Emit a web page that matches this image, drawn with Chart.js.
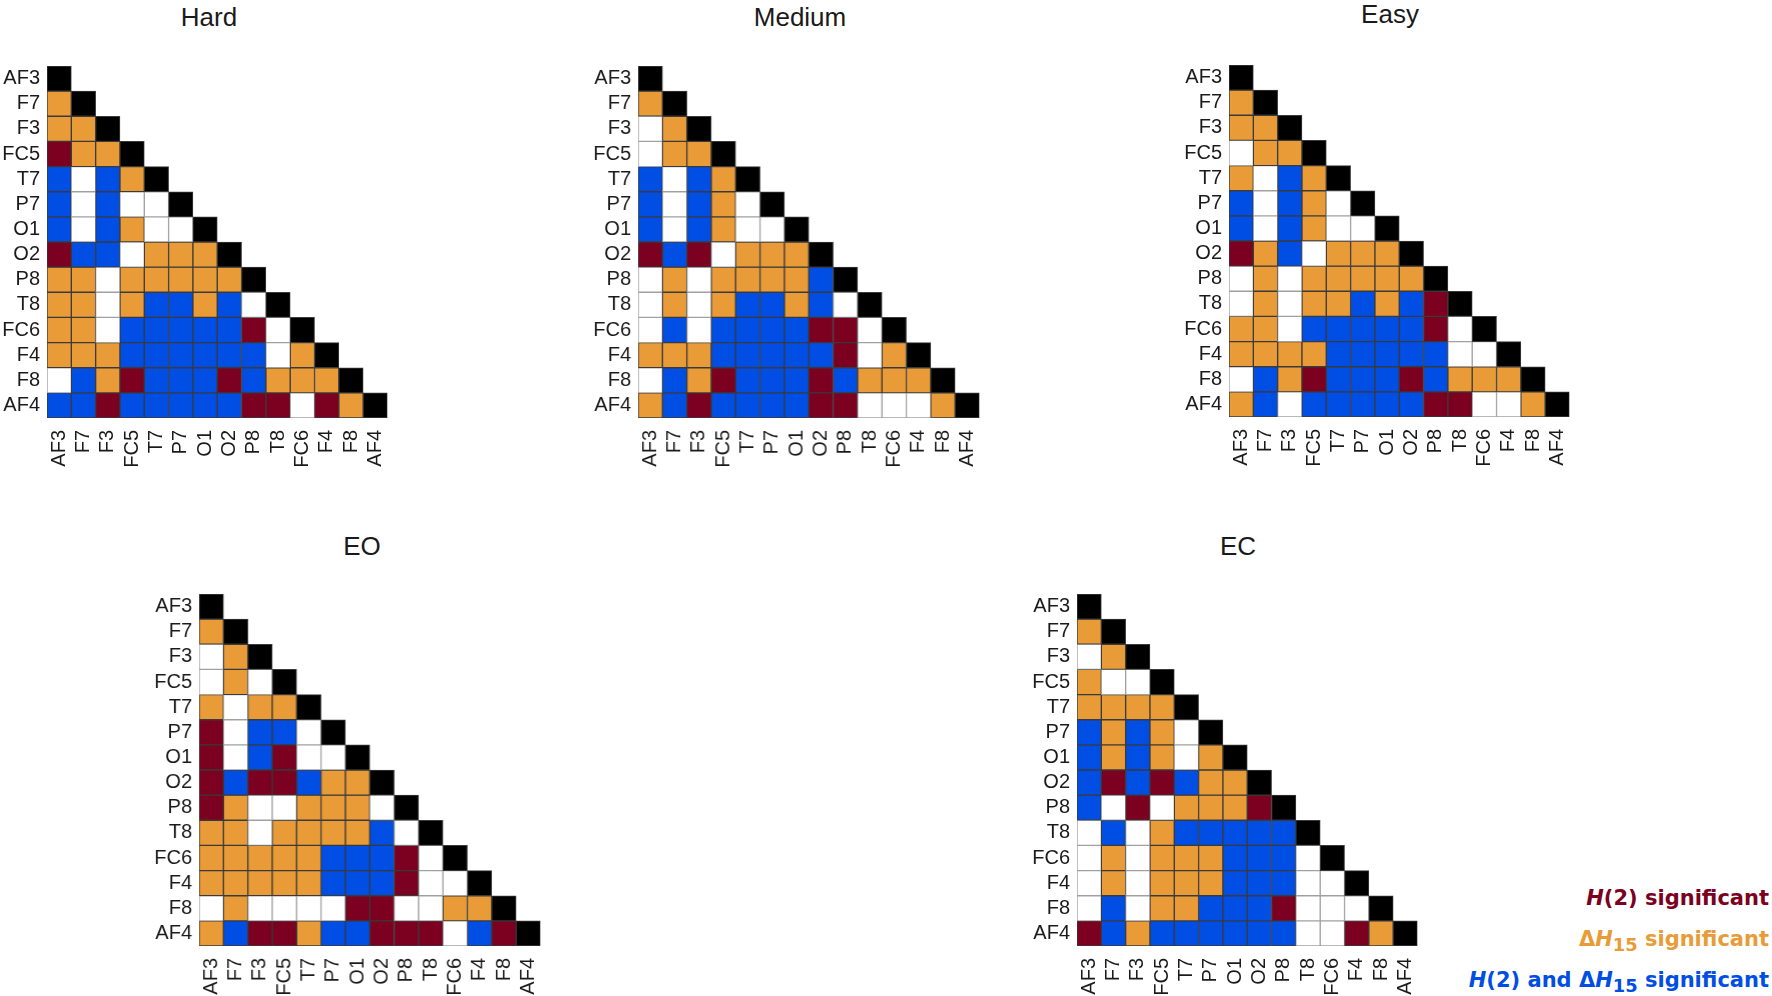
<!DOCTYPE html>
<html>
<head>
<meta charset="utf-8">
<script src="https://cdn.jsdelivr.net/npm/chart.js@4.4.1/dist/chart.umd.min.js"></script>
<style>
  body { margin: 0; width: 1772px; height: 996px; overflow: hidden; background: #fff; position: relative; }
  .panel { position: absolute; width: 410.5px; height: 431px; }
  .title { position: absolute; font-family: "Liberation Sans", Arial, sans-serif; font-size: 26px; color: #1a1a1a; line-height: 26px; transform: translateX(-50%); white-space: nowrap; }
  .leg { position: absolute; right: 3px; font-family: "DejaVu Sans", Verdana, sans-serif; font-weight: bold; font-size: 21px; line-height: 24px; white-space: nowrap; }
  .leg sub { font-size: 85%; vertical-align: -0.3em; line-height: 0; }
</style>
</head>
<body>

<script>
// channels, in the order shown on both axes
const channels = ['AF3', 'F7', 'F3', 'FC5', 'T7', 'P7', 'O1', 'O2', 'P8', 'T8', 'FC6', 'F4', 'F8', 'AF4'];

// cell codes: 0 = not significant, 1 = H(2) significant, 2 = dH15 significant, 3 = both
// row k lists the cells of channel k+1 (F7 .. AF4) against AF3, F7, ... below the diagonal
const hardRows = [
  [2],
  [2, 2],
  [1, 2, 2],
  [3, 0, 3, 2],
  [3, 0, 3, 0, 0],
  [3, 0, 3, 2, 0, 0],
  [1, 3, 3, 0, 2, 2, 2],
  [2, 2, 0, 2, 2, 2, 2, 2],
  [2, 2, 0, 2, 3, 3, 2, 3, 0],
  [2, 2, 0, 3, 3, 3, 3, 3, 1, 0],
  [2, 2, 2, 3, 3, 3, 3, 3, 3, 0, 2],
  [0, 3, 2, 1, 3, 3, 3, 1, 3, 2, 2, 2],
  [3, 3, 1, 3, 3, 3, 3, 3, 1, 1, 0, 1, 2]
];

const mediumRows = [
  [2],
  [0, 2],
  [0, 2, 2],
  [3, 0, 3, 2],
  [3, 0, 3, 2, 0],
  [3, 0, 3, 2, 0, 0],
  [1, 3, 1, 0, 2, 2, 2],
  [0, 2, 0, 2, 2, 2, 2, 3],
  [0, 2, 0, 2, 3, 3, 2, 3, 0],
  [0, 3, 0, 3, 3, 3, 3, 1, 1, 0],
  [2, 2, 2, 3, 3, 3, 3, 3, 1, 0, 2],
  [0, 3, 2, 1, 3, 3, 3, 1, 3, 2, 2, 2],
  [2, 3, 1, 3, 3, 3, 3, 1, 1, 0, 0, 0, 2]
];

const easyRows = [
  [2],
  [2, 2],
  [0, 2, 2],
  [2, 0, 3, 2],
  [3, 0, 3, 2, 0],
  [3, 0, 3, 2, 0, 0],
  [1, 2, 3, 0, 2, 2, 2],
  [0, 2, 0, 2, 2, 2, 2, 2],
  [0, 2, 0, 2, 2, 3, 2, 3, 1],
  [2, 2, 0, 3, 3, 3, 3, 3, 1, 0],
  [2, 2, 2, 2, 3, 3, 3, 3, 3, 0, 0],
  [0, 3, 2, 1, 3, 3, 3, 1, 3, 2, 2, 2],
  [2, 3, 0, 3, 3, 3, 3, 3, 1, 1, 0, 0, 2]
];

const eoRows = [
  [2],
  [0, 2],
  [0, 2, 0],
  [2, 0, 2, 2],
  [1, 0, 3, 3, 0],
  [1, 0, 3, 1, 0, 0],
  [1, 3, 1, 1, 3, 2, 2],
  [1, 2, 0, 0, 2, 2, 2, 0],
  [2, 2, 0, 2, 2, 2, 2, 3, 0],
  [2, 2, 2, 2, 2, 3, 3, 3, 1, 0],
  [2, 2, 2, 2, 2, 3, 3, 3, 1, 0, 0],
  [0, 2, 0, 0, 0, 0, 1, 1, 0, 0, 2, 2],
  [2, 3, 1, 1, 2, 3, 3, 1, 1, 1, 0, 3, 1]
];

const ecRows = [
  [2],
  [0, 2],
  [2, 0, 0],
  [2, 2, 2, 2],
  [3, 2, 3, 2, 0],
  [3, 2, 3, 2, 0, 2],
  [3, 1, 3, 1, 3, 2, 2],
  [3, 0, 1, 0, 2, 2, 2, 1],
  [0, 3, 0, 2, 3, 3, 3, 3, 3],
  [0, 2, 0, 2, 2, 2, 3, 3, 3, 0],
  [0, 2, 0, 2, 2, 2, 3, 3, 3, 0, 0],
  [0, 3, 0, 2, 2, 3, 3, 3, 1, 0, 0, 0],
  [1, 3, 2, 3, 3, 3, 3, 3, 3, 0, 0, 1, 2]
];

const codeColors = ['#ffffff', '#7c0020', '#e89b37', '#004ee4'];
const diagColor = '#000000';

// where each matrix sits on the page (plot area top-left corner)
const panels = [
  { title: 'Hard',   rows: hardRows,   x: 46.7,   y: 62.7, tx: 209,  ty: 17 },
  { title: 'Medium', rows: mediumRows, x: 638.3,  y: 62.7, tx: 800,  ty: 17 },
  { title: 'Easy',   rows: easyRows,   x: 1228.7, y: 62.3, tx: 1390, ty: 14 },
  { title: 'EO',     rows: eoRows,     x: 199.3,  y: 591,  tx: 362,  ty: 546 },
  { title: 'EC',     rows: ecRows,     x: 1076.7, y: 591,  tx: 1238, ty: 546 }
];

const Y_AXIS_W = 50;
const X_AXIS_H = 60;
const PAD_TOP = 16;

// Build one dataset per matrix row, each cell a floating bar [i, i+1]
function buildDatasets(rows) {
  const datasets = [];
  for (let i = 0; i < channels.length; i++) {
    const data = [];
    const bg = [];
    const bc = [];
    for (let j = 0; j < channels.length; j++) {
      if (j < i) {
        const code = rows[i - 1][j];
        data.push([i, i + 1]);
        bg.push(codeColors[code]);
        bc.push(code === 0 ? '#a0a0a0' : '#3a3a3a');
      } else if (j === i) {
        data.push([i, i + 1]);
        bg.push(diagColor);
        bc.push('#3a3a3a');
      } else {
        data.push(null);
        bg.push('rgba(0,0,0,0)');
        bc.push('rgba(0,0,0,0)');
      }
    }
    datasets.push({
      label: channels[i],
      data: data,
      backgroundColor: bg,
      borderColor: bc,
      borderWidth: 1,
      borderSkipped: false,
      barPercentage: 1,
      categoryPercentage: 1,
      grouped: false
    });
  }
  return datasets;
}

function createMatrix(panel) {
  const box = document.createElement('div');
  box.className = 'panel';
  box.style.left = (panel.x - Y_AXIS_W) + 'px';
  box.style.top = (panel.y - PAD_TOP) + 'px';
  const canvas = document.createElement('canvas');
  box.appendChild(canvas);
  document.body.appendChild(box);

  const t = document.createElement('div');
  t.className = 'title';
  t.textContent = panel.title;
  t.style.left = panel.tx + 'px';
  t.style.top = (panel.ty - 13) + 'px';
  document.body.appendChild(t);

  const tickFont = { family: '"Liberation Sans", Arial, sans-serif', size: 20 };

  new Chart(canvas.getContext('2d'), {
    type: 'bar',
    data: {
      labels: channels,
      datasets: buildDatasets(panel.rows)
    },
    options: {
      responsive: true,
      maintainAspectRatio: false,
      animation: false,
      layout: { padding: { top: PAD_TOP, right: 20, bottom: 0, left: 0 } },
      plugins: {
        legend: { display: false },
        tooltip: { enabled: false }
      },
      scales: {
        x: {
          type: 'category',
          grid: { display: false },
          border: { display: false },
          ticks: {
            autoSkip: false,
            minRotation: 90,
            maxRotation: 90,
            padding: 4,
            color: '#1a1a1a',
            font: tickFont
          },
          afterFit: function (scale) { scale.height = X_AXIS_H; }
        },
        y: {
          type: 'linear',
          min: 0,
          max: channels.length,
          reverse: true,
          grid: { display: false, drawTicks: false },
          border: { display: false },
          afterBuildTicks: function (scale) {
            scale.ticks = channels.map((c, i) => ({ value: i + 0.5 }));
          },
          ticks: {
            padding: 7,
            color: '#1a1a1a',
            font: tickFont,
            callback: function (value, index) { return channels[index]; }
          },
          afterFit: function (scale) { scale.width = Y_AXIS_W; }
        }
      }
    }
  });
}

panels.forEach(createMatrix);
</script>

<div class="leg" style="top: 886px; color: #7c0020;"><i>H</i>(2) significant</div>
<div class="leg" style="top: 927px; color: #e89b37;">Δ<i>H</i><sub>15</sub> significant</div>
<div class="leg" style="top: 968px; color: #004ee4;"><i>H</i>(2) and Δ<i>H</i><sub>15</sub> significant</div>

</body>
</html>
